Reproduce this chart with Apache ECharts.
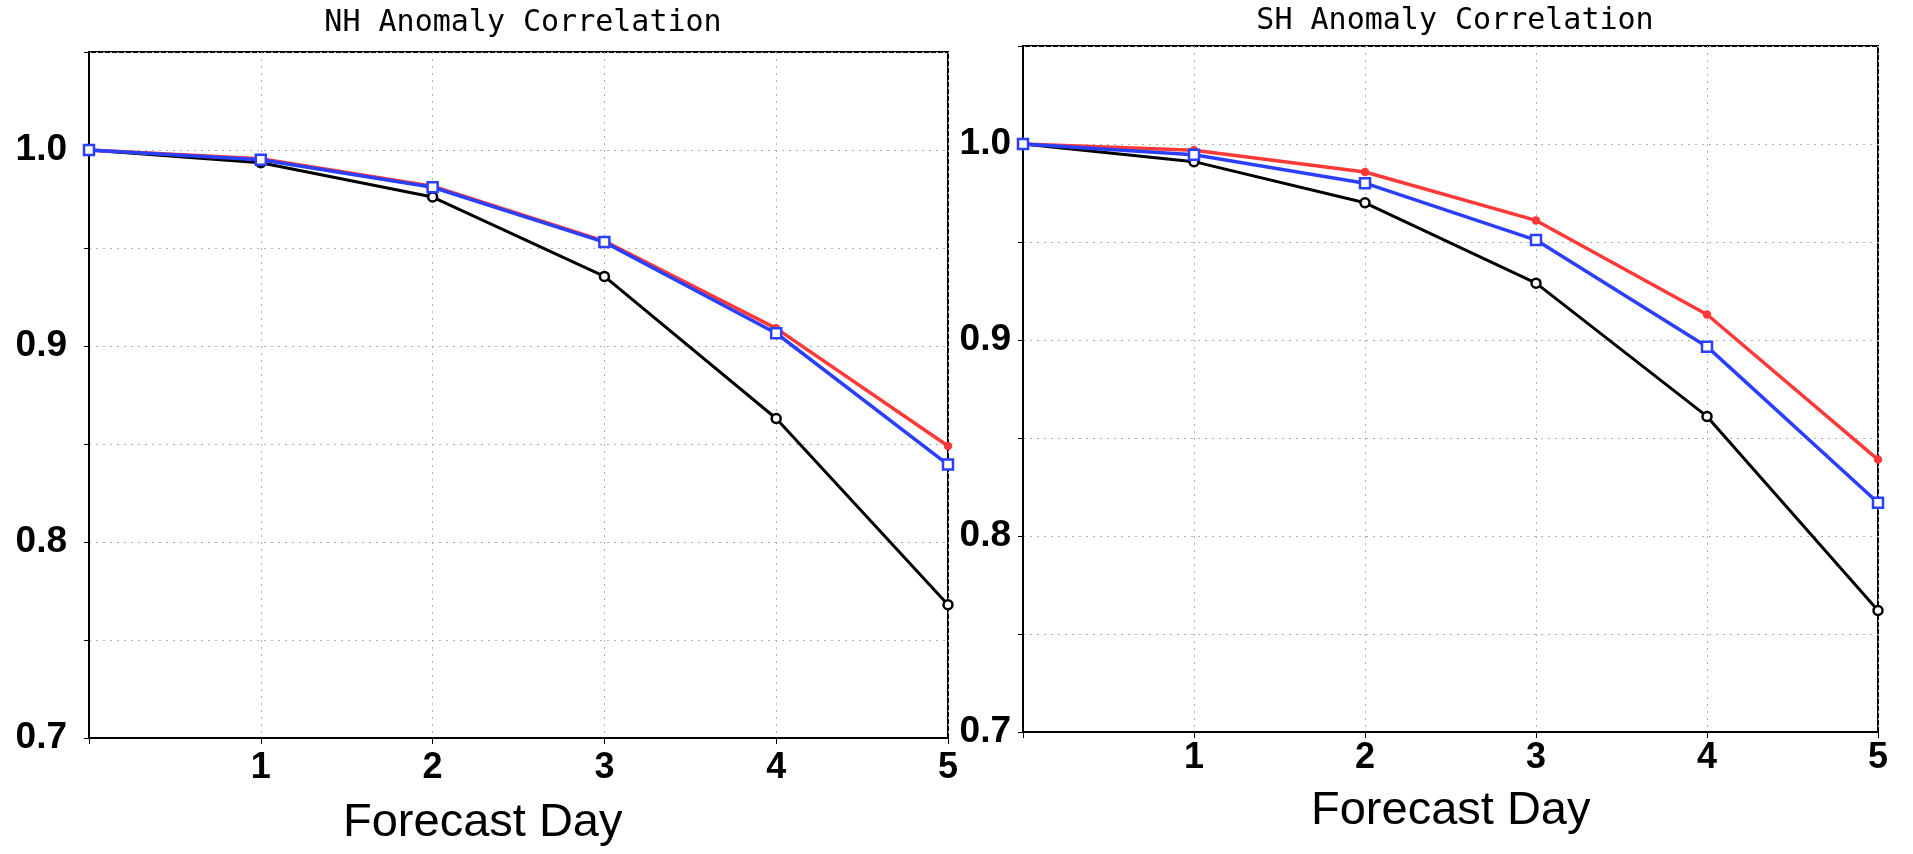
<!DOCTYPE html>
<html>
<head>
<meta charset="utf-8">
<script src="https://cdn.jsdelivr.net/npm/echarts@6/dist/echarts.min.js"></script>
<style>
html,body{margin:0;padding:0;background:#fff;}
#c{width:1913px;height:854px;}
</style>
</head>
<body>
<div id="c"></div>
<script>
// ---- data ----
var days = [0, 1, 2, 3, 4, 5];
var nhBlack = [1.0, 0.9935, 0.976, 0.9355, 0.863, 0.768];
var nhRed   = [1.0, 0.9956, 0.9815, 0.9535, 0.909, 0.849];
var nhBlue  = [1.0, 0.995, 0.981, 0.953, 0.9065, 0.8395];
var shBlack = [1.0, 0.991, 0.970, 0.929, 0.861, 0.762];
var shRed   = [1.0, 0.9968, 0.9857, 0.961, 0.913, 0.839];
var shBlue  = [1.0, 0.9945, 0.980, 0.951, 0.8966, 0.817];
var titles = ['NH Anomaly Correlation', 'SH Anomaly Correlation'];
var xName = 'Forecast Day';
var yTickLabels = ['0.7', '0.8', '0.9', '1.0'];

function pairs(vals) { return days.map(function (d, i) { return [d, vals[i]]; }); }

var chart = echarts.init(document.getElementById('c'), null, {renderer: 'canvas'});

var labelFont = 'Liberation Sans, Arial, sans-serif';
function xAxisCfg(gi, margin) {
  return {
    type: 'value', gridIndex: gi, min: 0, max: 5, interval: 1,
    axisLine: {show: true, lineStyle: {color: '#000', width: 2}},
    axisTick: {show: true, length: 6, lineStyle: {color: '#000', width: 1}},
    axisLabel: {
      margin: margin, color: '#000', fontSize: 36, fontWeight: 'bold', fontFamily: labelFont,
      formatter: function (v) { return v === 0 ? '' : String(v); }
    },
    splitLine: {show: true, lineStyle: {color: '#b0b0b0', type: [2, 5], width: 1}}
  };
}
function yAxisCfg(gi, margin) {
  return {
    type: 'value', gridIndex: gi, min: 0.7, max: 1.05, interval: 0.05,
    axisLine: {show: true, lineStyle: {color: '#000', width: 2}},
    axisTick: {show: true, length: 5, lineStyle: {color: '#000', width: 1}},
    axisLabel: {
      margin: margin, color: '#000', fontSize: 37, fontWeight: 'bold', fontFamily: labelFont,
      padding: [0, 0, 10, 0],
      formatter: function (v) {
        var t = v.toFixed(1);
        return (Math.abs(parseFloat(t) - v) < 1e-6 && yTickLabels.indexOf(t) >= 0) ? t : '';
      }
    },
    splitLine: {show: true, lineStyle: {color: '#b0b0b0', type: [2, 5], width: 1}}
  };
}
function lineSeries(gi, vals, color, width, symbol, size, filled, z) {
  return {
    type: 'line', xAxisIndex: gi, yAxisIndex: gi, data: pairs(vals),
    symbol: symbol, symbolSize: size, showSymbol: true, z: z,
    lineStyle: {color: color, width: width},
    itemStyle: {color: filled ? color : '#fff', borderColor: color, borderWidth: 2.5},
    emphasis: {disabled: true}, animation: false, clip: true
  };
}

var titleStyle = {fontFamily: 'DejaVu Sans Mono', fontWeight: 'normal', fontSize: 30, color: '#000'};
var option = {
  backgroundColor: '#fff',
  animation: false,
  title: [
    {text: titles[0], left: 518, top: 3, textAlign: 'center', textStyle: titleStyle},
    {text: titles[1], left: 1450, top: 1, textAlign: 'center', textStyle: titleStyle}
  ],
  grid: [
    {left: 89, top: 52, width: 859, height: 686, show: true, borderColor: '#000', borderWidth: 2, backgroundColor: '#fff'},
    {left: 1023, top: 46, width: 855, height: 686, show: true, borderColor: '#000', borderWidth: 2, backgroundColor: '#fff'}
  ],
  xAxis: [xAxisCfg(0, 12), xAxisCfg(1, 8)],
  yAxis: [yAxisCfg(0, 22), yAxisCfg(1, 12)],
  graphic: [
    {type: 'text', left: 343, top: 800, style: {text: xName, font: '47px Liberation Sans, Arial, sans-serif', fill: '#000'}},
    {type: 'text', left: 1311, top: 788, style: {text: xName, font: '47px Liberation Sans, Arial, sans-serif', fill: '#000'}}
  ],
  series: [
    lineSeries(0, nhBlack, '#000000', 3, 'circle', 9, false, 3),
    lineSeries(0, nhRed, '#ff3838', 3.5, 'circle', 6, true, 4),
    lineSeries(0, nhBlue, '#2a40ff', 3.5, 'rect', 10, false, 5),
    lineSeries(1, shBlack, '#000000', 3, 'circle', 9, false, 3),
    lineSeries(1, shRed, '#ff3838', 3.5, 'circle', 6, true, 4),
    lineSeries(1, shBlue, '#2a40ff', 3.5, 'rect', 10, false, 5)
  ]
};
chart.setOption(option);
</script>
</body>
</html>
